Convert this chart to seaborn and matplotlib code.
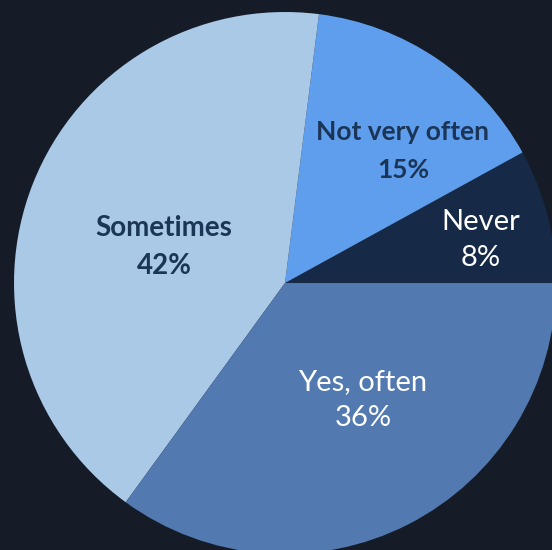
import matplotlib
matplotlib.use("Agg")
import matplotlib.pyplot as plt
import seaborn as sns

# survey answers, counterclockwise from 3 o'clock
answers = ["Never", "Not very often", "Sometimes", "Yes, often"]
shares = [8, 15, 42, 35]
share_labels = ["8%", "15%", "42%", "36%"]
colors = ["#162a47", "#5f9ded", "#a9c9e6", "#5279b0"]
text_colors = ["white", "#1b3556", "#1b3556", "white"]
text_weights = ["normal", "bold", "bold", "normal"]
text_sizes = [21, 19, 20, 21]
label_pos = [(0.723, 0.159), (0.435, 0.487), (-0.4465, 0.133), (0.288, -0.432)]

bg = "#151c28"
sns.set_theme(style="white")
plt.rcParams["font.family"] = ["Lato", "DejaVu Sans"]

fig = plt.figure(figsize=(5.52, 5.50), dpi=100, facecolor=bg)
ax = fig.add_axes([0, 0, 1, 1])
ax.set_facecolor(bg)

ax.pie(shares, colors=colors, startangle=0, counterclock=True, radius=1,
       wedgeprops=dict(linewidth=0))

for name, pct, (x, y), c, w, s in zip(answers, share_labels, label_pos,
                                      text_colors, text_weights, text_sizes):
    ax.text(x, y, f"{name}\n{pct}", ha="center", va="center", color=c,
            fontsize=s, fontweight=w, linespacing=1.35 * 38 / 31 * 19 / s)

ax.set_aspect("auto")
ax.set_xlim(-1.0517, 0.9852)
ax.set_ylim(-0.9852, 1.0443)
ax.axis("off")

fig.savefig("out.png", dpi=100, facecolor=bg)
